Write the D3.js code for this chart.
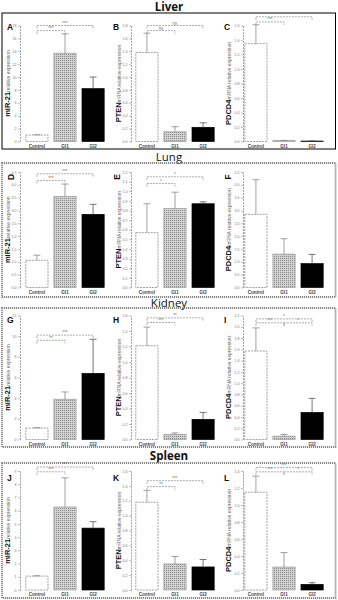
<!DOCTYPE html>
<html>
<head>
<meta charset="utf-8">
<script src="https://cdn.jsdelivr.net/npm/d3@7"></script>
<style>
  body { margin: 0; background: #fff; }
  text { font-family: "Liberation Sans", Arial, sans-serif; }
</style>
</head>
<body>
<svg id="fig" width="338" height="600"></svg>
<script>
// ---- data ----
const groups = ["Control", "GI1", "GI2"];
const organs = ["Liver", "Lung", "Kidney", "Spleen"];
const letters = ["A", "B", "C", "D", "E", "F", "G", "H", "I", "J", "K", "L"];
const genes = ["miR-21", "PTEN", "PDCD4"];
const geneUnits = ["relative expression", "mRNA relative expression", "mRNA relative expression"];

const yMaxes = [18, 1.8, 1.6, 4.5, 1.2, 4.5, 12, 1.6, 2.2, 9, 1.6, 1.4];
const yTickSteps = [2, 0.2, 0.2, 0.5, 0.1, 0.5, 2, 0.2, 0.2, 1, 0.2, 0.2];

const means = [
  [1.0, 13.7, 8.2],
  [1.38, 0.15, 0.22],
  [1.35, 0.012, 0.006],
  [1.06, 3.55, 2.85],
  [0.57, 0.82, 0.87],
  [2.85, 1.3, 0.93],
  [1.1, 3.9, 6.4],
  [1.21, 0.065, 0.26],
  [1.57, 0.06, 0.48],
  [1.05, 6.28, 4.68],
  [1.18, 0.35, 0.31],
  [1.15, 0.27, 0.066]
];
const errors = [
  [0.05, 3.0, 1.8],
  [0.3, 0.08, 0.07],
  [0.26, 0.004, 0.002],
  [0.2, 0.48, 0.39],
  [0.3, 0.17, 0.02],
  [1.35, 0.6, 0.36],
  [0.05, 0.7, 3.3],
  [0.24, 0.02, 0.09],
  [0.41, 0.03, 0.25],
  [0.03, 2.2, 0.49],
  [0.16, 0.1, 0.1],
  [0.19, 0.17, 0.02]
];
// [from group, to group, height in axis units, label]
const brackets = [
  [[0, 1, 17.2, "***"], [0, 2, 18, "***"]],
  [[0, 1, 1.72, "ns"], [0, 2, 1.8, "ns"]],
  [[0, 1, 1.65, "***"], [0, 2, 1.72, "***"]],
  [[0, 1, 4.17, "***"], [0, 2, 4.43, "***"]],
  [[0, 1, 1.08, "*"], [0, 2, 1.15, "*"]],
  [],
  [[0, 1, 9.6, "**"], [0, 2, 10.1, "***"]],
  [[0, 1, 1.51, "***"], [0, 2, 1.57, "**"]],
  [[0, 1, 2.07, "***"], [1, 2, 2.07, "*"], [0, 2, 2.14, "*"]],
  [[0, 1, 8.94, "***"], [0, 2, 9.3, "***"]],
  [[0, 1, 1.39, "**"], [0, 2, 1.47, "***"]],
  [[0, 1, 1.39, "***"], [1, 2, 1.39, "*"], [0, 2, 1.44, "***"]]
];

// ---- layout ----
const rowLayout = [
  {title: 11, weight: 700, box: [13, 149], plot: [25.5, 141.5], letterY: 30, boxSolid: true},
  {title: 161, weight: 400, box: [163, 297], plot: [172, 287.5], letterY: 177, rotLetter: true},
  {title: 306.5, weight: 400, box: [308, 447], plot: [315.5, 439.5], letterY: 323},
  {title: 460, weight: 700, box: [463, 598], plot: [471, 590], letterY: 481}
];
const colLayout = [
  {axis: 20, band: [23, 107], label: 10, letter: 7},
  {axis: 131, band: [133, 217], label: 121, letter: 113},
  {axis: 243, band: [242, 326], label: 231, letter: 224}
];

const svg = d3.select("#fig");
const defs = svg.append("defs");
const pat = defs.append("pattern").attr("id", "stipple")
  .attr("width", 2).attr("height", 2).attr("patternUnits", "userSpaceOnUse");
pat.append("rect").attr("width", 2).attr("height", 2).attr("fill", "#d2d2d2");
pat.append("rect").attr("width", 1).attr("height", 1).attr("fill", "#8a8a8a");

const barFill = ["#fff", "url(#stipple)", "#000"];
const barStroke = ["#7a7a7a", "#9a9a9a", "#000"];
const errColor = ["#8a8a8a", "#888", "#555"];

rowLayout.forEach((row, r) => {
  // organ title
  svg.append("text")
    .attr("x", 169).attr("y", row.title)
    .attr("text-anchor", "middle")
    .style("font-family", "'Open Sans', sans-serif")
    .style("font-size", "11.5px")
    .style("font-weight", row.weight)
    .attr("fill", "#111")
    .text(organs[r]);

  // frame
  svg.append("rect")
    .attr("x", 2).attr("y", row.box[0])
    .attr("width", 333.5).attr("height", row.box[1] - row.box[0])
    .attr("fill", "none")
    .attr("stroke", row.boxSolid ? "#000" : "#8a8a8a")
    .attr("stroke-width", row.boxSolid ? 1 : 1.8)
    .attr("stroke-dasharray", row.boxSolid ? null : "1.2,0.8");

  colLayout.forEach((col, c) => {
    const k = r * 3 + c;
    const g = svg.append("g").attr("class", "panel");

    const y = d3.scaleLinear().domain([0, yMaxes[k]]).range([row.plot[1], row.plot[0]]);
    const x = d3.scaleBand().domain(groups).range(col.band).paddingInner(0.21).paddingOuter(0.1);

    const nTicks = Math.round(yMaxes[k] / yTickSteps[k]);
    const ticks = d3.range(0, nTicks + 1).map(i => +(i * yTickSteps[k]).toFixed(2));
    const fmt = yTickSteps[k] >= 1 ? d3.format("d") : d3.format(".1f");

    const ax = g.append("g")
      .attr("transform", "translate(" + col.axis + ",0)")
      .call(d3.axisLeft(y).tickValues(ticks).tickFormat(fmt).tickSize(2).tickSizeOuter(0).tickPadding(1.5));
    ax.select(".domain").attr("stroke", "#8a8a8a").attr("stroke-width", 0.8).attr("stroke-dasharray", "2,1");
    ax.selectAll(".tick line").attr("stroke", "#8a8a8a").attr("stroke-width", 0.6);
    ax.selectAll(".tick text").attr("fill", "#777").style("font-size", "3.6px");

    // bars
    g.selectAll(".bar").data(groups).enter().append("rect")
      .attr("class", "bar")
      .attr("x", d => x(d))
      .attr("y", (d, i) => y(means[k][i]))
      .attr("width", x.bandwidth())
      .attr("height", (d, i) => y(0) - y(means[k][i]))
      .attr("fill", (d, i) => barFill[i])
      .attr("stroke", (d, i) => barStroke[i])
      .attr("stroke-width", 0.7)
      .attr("stroke-dasharray", (d, i) => i === 0 ? "2,1" : null);

    // error bars (upper half)
    groups.forEach((d, i) => {
      const cx = x(d) + x.bandwidth() / 2;
      const y0 = y(means[k][i]);
      const y1 = y(means[k][i] + errors[k][i]);
      g.append("line").attr("x1", cx).attr("x2", cx).attr("y1", y0).attr("y2", y1)
        .attr("stroke", errColor[i]).attr("stroke-width", 0.8);
      g.append("line").attr("x1", cx - 3.5).attr("x2", cx + 3.5).attr("y1", y1).attr("y2", y1)
        .attr("stroke", errColor[i]).attr("stroke-width", 0.8);
    });

    // significance brackets
    brackets[k].forEach(b => {
      const x1 = x(groups[b[0]]) + x.bandwidth() / 2;
      const x2 = x(groups[b[1]]) + x.bandwidth() / 2;
      const yl = y(b[2]);
      g.append("path")
        .attr("d", "M" + x1 + "," + (yl + 3) + "V" + yl + "H" + x2 + "V" + (yl + 3))
        .attr("fill", "none").attr("stroke", "#888").attr("stroke-width", 0.7)
        .attr("stroke-dasharray", "2,1");
      g.append("text")
        .attr("x", (x1 + x2) / 2).attr("y", yl - 0.8)
        .attr("text-anchor", "middle")
        .style("font-size", "4.5px")
        .attr("fill", "#777")
        .text(b[3]);
    });

    // category labels
    g.selectAll(".cat").data(groups).enter().append("text")
      .attr("class", "cat")
      .attr("x", d => x(d) + x.bandwidth() / 2)
      .attr("y", row.plot[1] + 6)
      .attr("text-anchor", "middle")
      .style("font-size", "4.6px")
      .style("font-weight", "bold")
      .attr("fill", "#444")
      .text(d => d);

    // y label
    const midY = (row.plot[0] + row.plot[1]) / 2;
    const yl = g.append("text")
      .attr("transform", "translate(" + col.label + "," + midY + ") rotate(-90)")
      .attr("text-anchor", "middle");
    yl.append("tspan").style("font-size", "7.5px").style("font-weight", "bold").attr("fill", "#111").text(genes[c]);
    yl.append("tspan").style("font-size", "5px").attr("fill", "#666").text(geneUnits[c]);

    // panel letter
    if (row.rotLetter) {
      g.append("text")
        .attr("transform", "translate(" + (col.letter + 4) + "," + row.letterY + ") rotate(-90)")
        .attr("text-anchor", "middle").attr("dy", "0.35em")
        .style("font-size", "8.5px").style("font-weight", "bold").attr("fill", "#111")
        .text(letters[k]);
    } else {
      g.append("text")
        .attr("x", col.letter).attr("y", row.letterY)
        .style("font-size", "8.5px").style("font-weight", "bold").attr("fill", "#111")
        .text(letters[k]);
    }
  });
});
</script>
</body>
</html>
